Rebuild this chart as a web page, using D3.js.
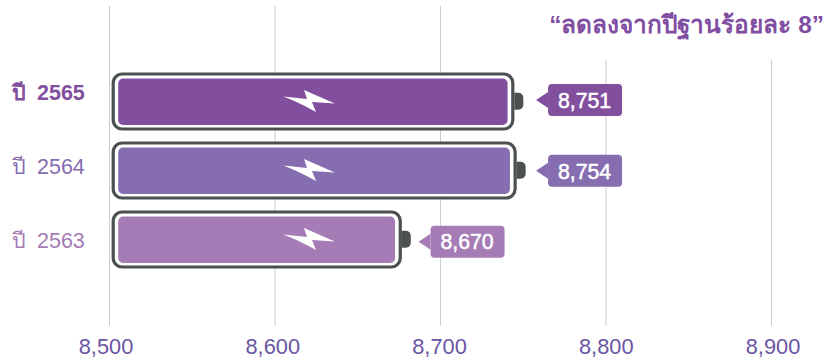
<!DOCTYPE html>
<html>
<head>
<meta charset="utf-8">
<script src="https://cdn.jsdelivr.net/npm/d3@7"></script>
<style>
  html, body { margin: 0; padding: 0; background: #fff; }
  svg { display: block; }
  text { font-family: "Liberation Sans", "Noto Sans", sans-serif; }
</style>
</head>
<body>
<svg id="chart" width="827" height="361"></svg>
<script>
// values
const years = ["ปี 2565", "ปี 2564", "ปี 2563"];
const values = [8751, 8754, 8670];
// the artwork does not sit on its label value, so these are read off the axis too
const shellEnds = [8744.6, 8746, 8676.6];
const tagStarts = [8765, 8765, 8694];
const colors = ["#824e9e", "#866db0", "#a57cb6"];
const ticks = [8500, 8600, 8700, 8800, 8900];
const title = "“ลดลงจากปีฐานร้อยละ 8”";

const svg = d3.select("#chart");

const x = d3.scaleLinear().domain([8500, 8900]).range([109.5, 771.5]);
const y = d3.scaleBand().domain(years).range([71, 278]);
// year labels and value tags step down a little faster than the batteries
const yLabel = d3.scalePoint().domain(years).range([100, 248]);
const yTag = d3.scalePoint().domain(years).range([100, 241.7]);
const xLabel = d3.scaleLinear().domain([8500, 8900]).range([106, 773]);

const batteryDark = "#4b5050";
const left = 111.7;

// grid, the last two lines stop below the title
svg.append("g").selectAll("line").data(ticks).join("line")
    .attr("x1", d => x(d)).attr("x2", d => x(d))
    .attr("y1", d => d >= 8800 ? 60 : 6).attr("y2", 326)
    .attr("stroke", "#cccccc").attr("stroke-width", 1);

// axis labels
svg.append("g").selectAll("text").data(ticks).join("text")
    .attr("x", d => xLabel(d)).attr("y", 354)
    .attr("text-anchor", "middle")
    .attr("font-size", 21.8)
    .attr("fill", "#6a55a3")
    .text(d3.format(","));

svg.append("text").attr("x", 824).attr("y", 32.5)
    .attr("text-anchor", "end").attr("font-size", 24.4).attr("font-weight", 700)
    .attr("fill", "#7f4ea3").text(title);

// year labels
svg.append("g").selectAll("text").data(years).join("text")
    .attr("x", 12).attr("y", d => yLabel(d))
    .attr("font-size", 21.5)
    .attr("word-spacing", 5)
    .attr("font-weight", (d, i) => i == 0 ? 700 : 400)
    .attr("fill", (d, i) => colors[i])
    .text(d => d);

const rows = svg.append("g").selectAll("g").data(years).join("g")
    .attr("transform", d => `translate(0,${y(d)})`);

// shell
rows.append("rect")
    .attr("x", left + 1.5).attr("y", 3)
    .attr("width", (d, i) => x(shellEnds[i]) - left - 3)
    .attr("height", 55).attr("rx", 9)
    .attr("fill", "#fff").attr("stroke", batteryDark).attr("stroke-width", 3.2);
// cell
rows.append("rect")
    .attr("x", left + 6.5).attr("y", 7.5)
    .attr("width", (d, i) => x(shellEnds[i]) - left - 13.2)
    .attr("height", 46.5).attr("rx", 5)
    .attr("fill", (d, i) => colors[i]);
// nub
rows.append("path")
    .attr("d", (d, i) => {
        const e = x(shellEnds[i]);
        return `M${e},21.7h4a5,5 0 0 1 5,5v7a5,5 0 0 1 -5,5h-4z`;
    })
    .attr("fill", batteryDark);
// bolt
rows.append("path")
    .attr("d", "M283.3,25.5 L307,28 L304,19 L334.8,32.5 L312,31 L316,41 Q298,31 283.3,25.5 Z")
    .attr("fill", "#fff");

// value tags
const tags = svg.append("g").selectAll("g").data(years).join("g")
    .attr("transform", (d, i) => `translate(${x(tagStarts[i])},${yTag(d)})`);
tags.append("path")
    .attr("d", "M-12,0L0,-8V8Z")
    .attr("fill", (d, i) => colors[i]);
tags.append("rect")
    .attr("x", 0).attr("y", -16)
    .attr("width", 74).attr("height", 32).attr("rx", 4)
    .attr("fill", (d, i) => colors[i]);
// regular weight with a thin stroke, closer to the medium weight of the reference than bold
tags.append("text")
    .attr("x", 36.5).attr("y", 7.7)
    .attr("text-anchor", "middle")
    .attr("font-size", 21.3)
    .attr("fill", "#fff")
    .attr("stroke", "#fff").attr("stroke-width", 0.5)
    .text((d, i) => d3.format(",")(values[i]));
</script>
</body>
</html>
